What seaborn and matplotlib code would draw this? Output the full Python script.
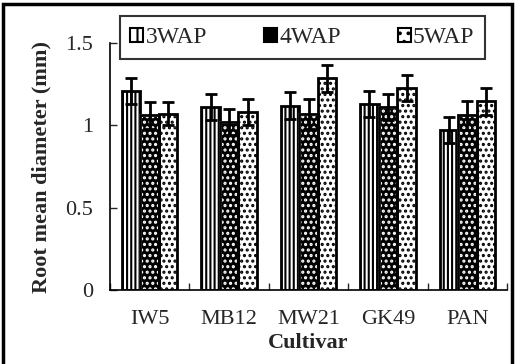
import numpy as np
import pandas as pd
import seaborn as sns
import matplotlib.pyplot as plt
from matplotlib.patches import Rectangle

# data
cultivars = ["IW5", "MB12", "MW21", "GK49", "PAN"]
stages = ["3WAP", "4WAP", "5WAP"]
wap3 = [1.21, 1.11, 1.12, 1.13, 0.97]
wap4 = [1.06, 1.02, 1.07, 1.11, 1.06]
wap5 = [1.07, 1.08, 1.285, 1.225, 1.145]
err3 = [0.08, 0.08, 0.08, 0.08, 0.08]
err4 = [0.08, 0.08, 0.09, 0.08, 0.09]
err5 = [0.07, 0.08, 0.08, 0.08, 0.08]

df = pd.DataFrame({
    "Cultivar": cultivars * 3,
    "stage": sum([[s] * len(cultivars) for s in stages], []),
    "value": wap3 + wap4 + wap5,
    "err": err3 + err4 + err5,
})

sns.set_style("ticks")
plt.rcParams["font.family"] = ["Liberation Serif", "DejaVu Serif"]
plt.rcParams["hatch.linewidth"] = 1.5

fig = plt.figure(figsize=(5.16, 3.64), dpi=100)
ax = fig.add_axes([0.213, 0.203, 0.77, 0.679])

sns.barplot(data=df, x="Cultivar", y="value", hue="stage", order=cultivars,
            hue_order=stages, errorbar=None, width=0.7, ax=ax,
            palette=["white", "black", "white"], legend=False)

hatches = ["||||", "...", "..."]
for k, cont in enumerate(ax.containers):
    for bar in cont:
        bar.set_linewidth(2)
        bar.set_hatch(hatches[k])
        if k == 1:
            bar.set_facecolor("black")
            bar.set_edgecolor("white")
        else:
            bar.set_facecolor("white")
            bar.set_edgecolor("black")

# outlines on top of the dark bars, error bars
for k, s in enumerate(stages):
    sub = df[df["stage"] == s]
    cont = ax.containers[k]
    xs = [b.get_x() + b.get_width() / 2 for b in cont]
    if k == 1:
        ax.bar(xs, sub["value"].values, width=cont[0].get_width(), fill=False,
               edgecolor="black", linewidth=2, zorder=3)
    ax.errorbar(xs, sub["value"].values, yerr=sub["err"].values, fmt="none",
                ecolor="black", elinewidth=2, capsize=4, capthick=2, zorder=4)

ax.set_ylim(0, 1.5)
ax.set_xlim(-0.5, 4.5)
ax.set_yticks([0, 0.5, 1, 1.5])
ax.set_yticklabels(["0", "0.5", "1", "1.5"])
ax.set_xticks(np.arange(-0.5, 5, 1), minor=True)
ax.tick_params(axis="x", which="major", length=0, labelsize=16, pad=14)
ax.tick_params(axis="x", which="minor", direction="in", length=5, width=1)
ax.tick_params(axis="y", direction="in", length=5, width=1, labelsize=16, pad=12)
sns.despine(ax=ax)
for sp in ["left", "bottom"]:
    ax.spines[sp].set_linewidth(1.2)
    ax.spines[sp].set_color("black")

ax.set_xlabel("Cultivar", fontsize=16, fontweight="bold", labelpad=3)
ax.set_ylabel("Root mean diameter (mm)", fontsize=16, fontweight="bold", labelpad=10)

handles = [Rectangle((0, 0), 1, 1, facecolor="white", edgecolor="black", hatch="||", lw=1.5),
           Rectangle((0, 0), 1, 1, facecolor="black", edgecolor="white", hatch="..", lw=1.5),
           Rectangle((0, 0), 1, 1, facecolor="white", edgecolor="black", hatch="..", lw=1.5)]
leg = fig.legend(handles, stages, ncol=3, loc="center", bbox_to_anchor=(0.586, 0.897),
                 fontsize=17, frameon=True, fancybox=False, edgecolor="black",
                 handlelength=0.55, handleheight=0.55, handletextpad=0.1,
                 columnspacing=2.4, borderpad=0.45, borderaxespad=0)
leg.get_frame().set_linewidth(1.5)
for h in leg.legend_handles:
    h.set_edgecolor("black")
    h.set_linewidth(1.5)

fig.patches.append(Rectangle((0.006, -0.02), 0.986, 1.009, transform=fig.transFigure,
                             fill=False, edgecolor="black", linewidth=2.5))

fig.savefig("out.png", dpi=100)
